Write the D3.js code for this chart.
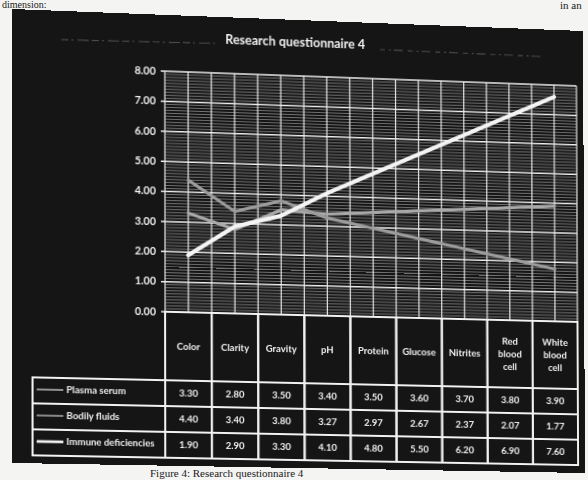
<!DOCTYPE html>
<html>
<head>
<meta charset="utf-8">
<script src="https://cdn.jsdelivr.net/npm/d3@7"></script>
<style>
  html, body { margin: 0; padding: 0; background: #f4f4f2; overflow: hidden; }
  #page { position: absolute; left: 0; top: 0; }
  #sheet { position: absolute; left: 0; top: 0; transform-origin: 0 0; }
</style>
</head>
<body>
<svg id="page" width="588" height="480"></svg>
<div id="sheet"></div>
<script>
// Chart data
const categories = ["Color", "Clarity", "Gravity", "pH", "Protein", "Glucose", "Nitrites", "Red blood cell", "White blood cell"];
const plasmaSerum = [3.30, 2.80, 3.50, 3.40, 3.50, 3.60, 3.70, 3.80, 3.90];
const bodilyFluids = [4.40, 3.40, 3.80, 3.27, 2.97, 2.67, 2.37, 2.07, 1.77];
const immuneDeficiencies = [1.90, 2.90, 3.30, 4.10, 4.80, 5.50, 6.20, 6.90, 7.60];
const seriesNames = ["Plasma serum", "Bodily fluids", "Immune deficiencies"];
const yTicks = [0, 1, 2, 3, 4, 5, 6, 7, 8];
const titleText = "Research questionnaire 4";

const series = [
  { name: seriesNames[0], values: plasmaSerum, color: "#a9a9a9", width: 3.2 },
  { name: seriesNames[1], values: bodilyFluids, color: "#9c9c9c", width: 3.2 },
  { name: seriesNames[2], values: immuneDeficiencies, color: "#f4f4f4", width: 4.2 }
];

// Surrounding printed page text
const page = d3.select("#page");
page.append("text").attr("x", 2).attr("y", 8)
  .attr("font-family", "Liberation Serif").attr("font-size", 10).attr("fill", "#1a1a1a")
  .text("dimension:");
page.append("text").attr("x", 560).attr("y", 9)
  .attr("font-family", "Liberation Serif").attr("font-size", 11).attr("fill", "#1a1a1a")
  .text("in an");
page.append("text").attr("x", 150).attr("y", 477)
  .attr("font-family", "Liberation Serif").attr("font-size", 11).attr("fill", "#1a1a1a")
  .text("Figure 4: Research questionnaire 4");

// Flat chart sheet
const W = 572, H = 455;
const svg = d3.select("#sheet").append("svg").attr("width", W).attr("height", H)
  .style("display", "block");

svg.append("rect").attr("width", W).attr("height", H).attr("fill", "#151515");

const plot = { left: 150, right: 565, top: 57, bottom: 300 };
const x = d3.scaleBand().domain(categories).range([plot.left, plot.right]).padding(0);
const y = d3.scaleLinear().domain([0, 8]).range([plot.bottom, plot.top]);
const cx = c => x(c) + x.bandwidth() / 2;

// Title and faint print streaks beside it
svg.append("text").attr("x", 280).attr("y", 27).attr("text-anchor", "middle")
  .attr("font-family", "Lato").attr("font-weight", 700).attr("font-size", 12.5)
  .attr("fill", "#f2f2f2").text(titleText);
svg.append("path").attr("d", "M48,29 L200,27").attr("stroke", "#7a7a7a").attr("stroke-width", 1.1)
  .attr("stroke-dasharray", "7 3 2 4 11 3").attr("opacity", 0.55);
svg.append("path").attr("d", "M365,27 L530,28").attr("stroke", "#7a7a7a").attr("stroke-width", 1.1)
  .attr("stroke-dasharray", "5 4 2 3 9 5").attr("opacity", 0.55);

// Grid: minor horizontal lines every 0.1
const minor = d3.range(0, 80).map(i => i / 10).filter(v => Math.abs(v - Math.round(v)) > 1e-6);
svg.append("g").selectAll("line").data(minor).join("line")
  .attr("x1", plot.left).attr("x2", plot.right)
  .attr("y1", d => y(d)).attr("y2", d => y(d))
  .attr("stroke", "#b8b8b8").attr("stroke-width", 0.8).attr("opacity", 0.75);

// Vertical grid lines at band edges and centres
const vLines = [];
categories.forEach(c => { vLines.push(x(c)); vLines.push(cx(c)); });
vLines.push(plot.right);
svg.append("g").selectAll("line").data(vLines).join("line")
  .attr("x1", d => d).attr("x2", d => d)
  .attr("y1", plot.top).attr("y2", plot.bottom)
  .attr("stroke", "#e6e6e6").attr("stroke-width", 1.2);

// Major horizontal lines
svg.append("g").selectAll("line").data(yTicks).join("line")
  .attr("x1", plot.left - 4).attr("x2", plot.right)
  .attr("y1", d => y(d)).attr("y2", d => y(d))
  .attr("stroke", "#f0f0f0").attr("stroke-width", 1.5);

// Y axis labels
const yAxis = d3.axisLeft(y).tickValues(yTicks).tickFormat(d3.format(".2f")).tickSize(0).tickPadding(9);
const gy = svg.append("g").attr("transform", `translate(${plot.left},0)`).call(yAxis);
gy.select(".domain").remove();
gy.selectAll("text").attr("font-family", "Lato").attr("font-weight", 700)
  .attr("font-size", 10.5).attr("fill", "#f0f0f0");

// Series lines
const line = d3.line().x((d, i) => cx(categories[i])).y(d => y(d));
svg.append("g").selectAll("path").data(series).join("path")
  .attr("d", d => line(d.values))
  .attr("fill", "none").attr("stroke", d => d.color).attr("stroke-width", d => d.width)
  .attr("stroke-linejoin", "round").attr("stroke-linecap", "round");

// Data table below the plot
const headerBottom = 369, rowH = 26;
const rowTop = i => headerBottom + i * rowH;
const legendLeft = 20;
const tbl = svg.append("g");
const white = "#f2f2f2";

// Header cells
categories.forEach(c => {
  tbl.append("rect").attr("x", x(c)).attr("y", plot.bottom)
    .attr("width", x.bandwidth()).attr("height", headerBottom - plot.bottom)
    .attr("fill", "none").attr("stroke", white).attr("stroke-width", 2);
  const words = c.split(" ");
  const lh = 13;
  const mid = (plot.bottom + headerBottom) / 2 + 4;
  words.forEach((w, k) => {
    tbl.append("text").attr("x", cx(c))
      .attr("y", mid + (k - (words.length - 1) / 2) * lh)
      .attr("text-anchor", "middle").attr("font-family", "Lato").attr("font-weight", 700)
      .attr("font-size", 9.5).attr("fill", "#f0f0f0").text(w);
  });
});

// Series rows
series.forEach((s, i) => {
  const top = rowTop(i);
  tbl.append("rect").attr("x", legendLeft).attr("y", top)
    .attr("width", plot.left - legendLeft).attr("height", rowH)
    .attr("fill", "none").attr("stroke", white).attr("stroke-width", 2);
  tbl.append("line").attr("x1", legendLeft + 4).attr("x2", legendLeft + 30)
    .attr("y1", top + rowH / 2 - 1).attr("y2", top + rowH / 2 - 1)
    .attr("stroke", s.color).attr("stroke-width", s.width - 1.5);
  tbl.append("text").attr("x", legendLeft + 33).attr("y", top + rowH / 2 + 2)
    .attr("font-family", "Lato").attr("font-weight", 700).attr("font-size", 9.5)
    .attr("fill", "#f0f0f0").text(s.name);
  categories.forEach((c, j) => {
    tbl.append("rect").attr("x", x(c)).attr("y", top)
      .attr("width", x.bandwidth()).attr("height", rowH)
      .attr("fill", "none").attr("stroke", white).attr("stroke-width", 2);
    tbl.append("text").attr("x", cx(c)).attr("y", top + rowH / 2 + 3.5)
      .attr("text-anchor", "middle").attr("font-family", "Lato").attr("font-weight", 700)
      .attr("font-size", 9.5).attr("fill", "#f0f0f0").text(d3.format(".2f")(s.values[j]));
  });
});

// Map the flat sheet onto the photographed page quadrilateral
function quadMatrix(w, h, q) {
  const [x0, y0] = q[0], [x1, y1] = q[1], [x2, y2] = q[2], [x3, y3] = q[3];
  const dx1 = x1 - x2, dx2 = x3 - x2, dx3 = x0 - x1 + x2 - x3;
  const dy1 = y1 - y2, dy2 = y3 - y2, dy3 = y0 - y1 + y2 - y3;
  const den = dx1 * dy2 - dx2 * dy1;
  const g = (dx3 * dy2 - dx2 * dy3) / den;
  const hh = (dx1 * dy3 - dx3 * dy1) / den;
  const a = x1 - x0 + g * x1, b = x3 - x0 + hh * x3, c = x0;
  const d = y1 - y0 + g * y1, e = y3 - y0 + hh * y3, f = y0;
  return `matrix3d(${a / w},${d / w},0,${g / w},${b / h},${e / h},0,${hh / h},0,0,1,0,${c},${f},0,1)`;
}
d3.select("#sheet").style("transform",
  quadMatrix(W, H, [[12, 9], [583, 31], [585, 473], [12, 463]]));
</script>
</body>
</html>
